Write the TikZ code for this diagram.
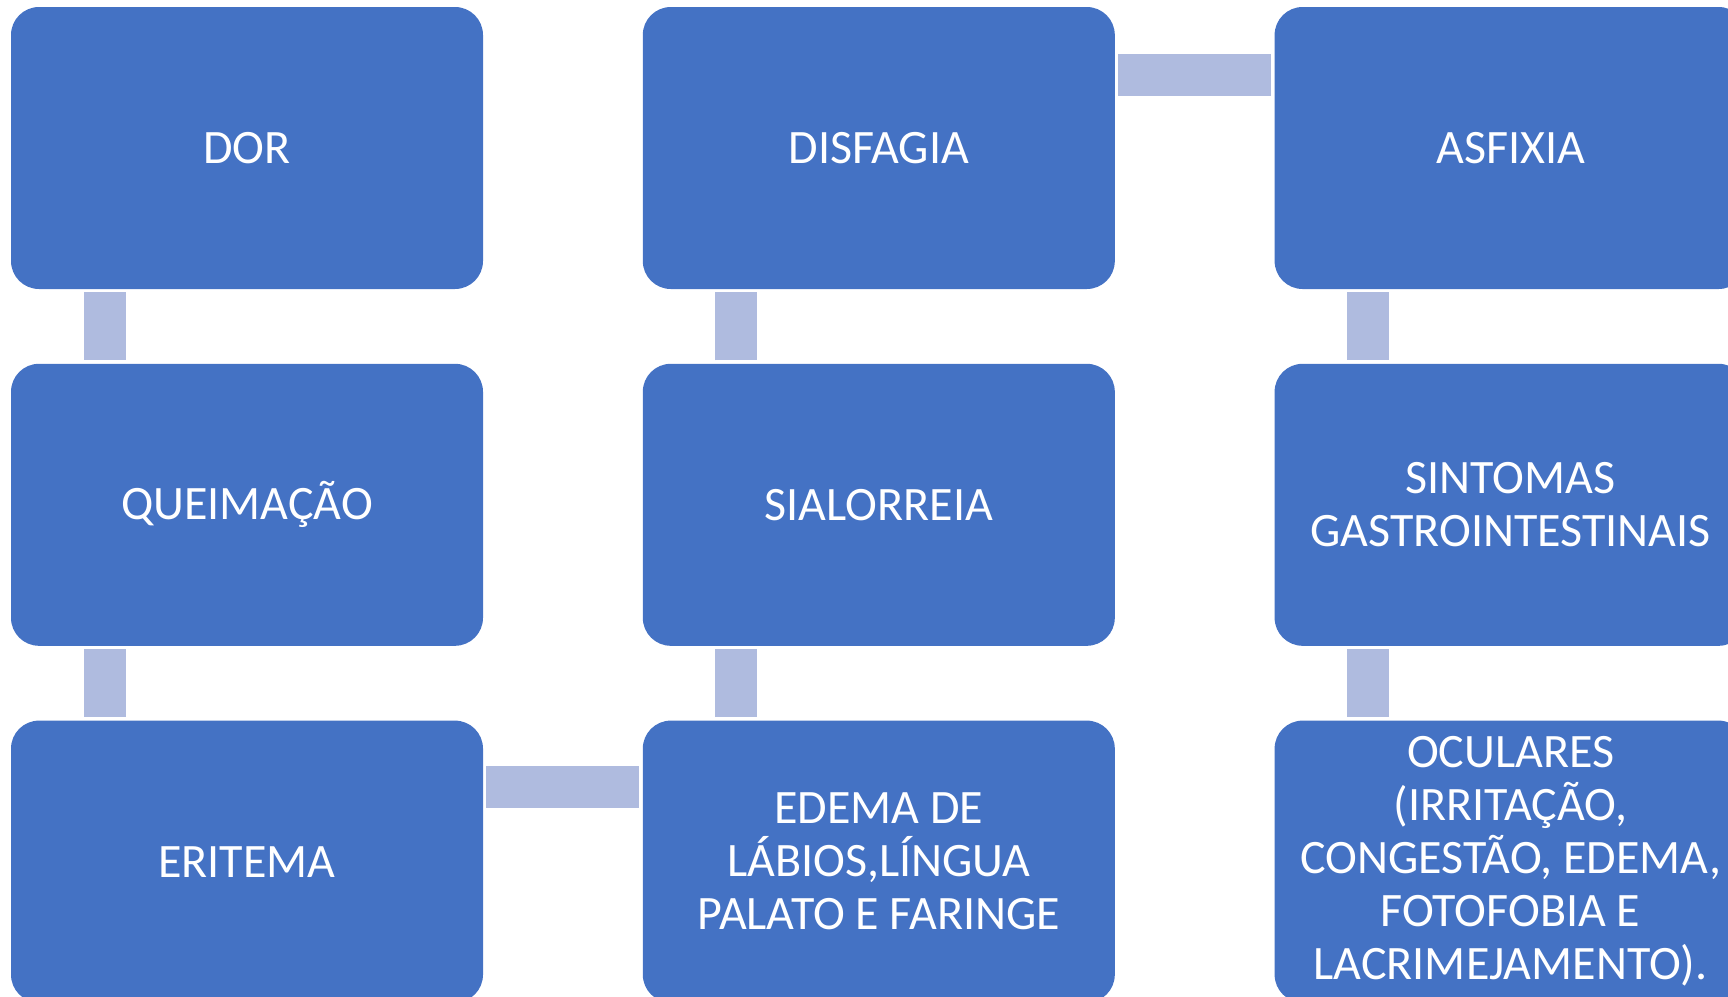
\documentclass[tikz,border=0pt]{standalone}
\usepackage{fontspec}
\setmainfont{Carlito}
\usepackage{xcolor}
\usetikzlibrary{positioning}
\definecolor{boxblue}{HTML}{4472C4}
\definecolor{linkblue}{HTML}{AFBBDF}
\tikzset{
box/.style={rectangle, rounded corners=14pt, fill=boxblue, text=white,
  minimum width=236pt, minimum height=141pt, inner sep=0pt, align=center,
  font=\fontsize{24pt}{26.5pt}\selectfont}, % the blue symptom boxes
link/.style={draw=linkblue, line width=21pt, shorten <=1.5pt, shorten >=1.5pt}, % the pale bars
node distance=37pt and 79.5pt, % gaps between the boxes
}
\begin{document}
\begin{tikzpicture}[x=0.5pt,y=-0.5pt]
    \useasboundingbox (0,0) rectangle (1728,996);
        \node[box] (dor) at (247,148) {DOR};
        \node[box, below=of dor] (queim) {QUEIMAÇÃO};
        \node[box, below=of queim] (erit) {ERITEMA};
        \node[box, right=of erit] (edema) {EDEMA DE\\LÁBIOS,LÍNGUA\\PALATO E FARINGE};
        \node[box, above=of edema] (sial) {SIALORREIA};
        \node[box, above=of sial] (disf) {DISFAGIA};
        \node[box, right=of disf] (asfix) {ASFIXIA};
        \node[box, below=of asfix] (sint) {SINTOMAS\\GASTROINTESTINAIS};
        \node[box, below=of sint] (ocul) {OCULARES\\(IRRITAÇÃO,\\CONGESTÃO, EDEMA,\\FOTOFOBIA E\\LACRIMEJAMENTO).};

        \draw[link] ([xshift=47pt]dor.south west) -- ([xshift=47pt]queim.north west);
        \draw[link] ([xshift=47pt]queim.south west) -- ([xshift=47pt]erit.north west);
        \draw[link] ([yshift=-33.5pt]erit.north east) -- ([yshift=-33.5pt]edema.north west);
        \draw[link] ([xshift=47pt]edema.north west) -- ([xshift=47pt]sial.south west);
        \draw[link] ([xshift=47pt]sial.north west) -- ([xshift=47pt]disf.south west);
        \draw[link] ([yshift=-34pt]disf.north east) -- ([yshift=-34pt]asfix.north west);
        \draw[link] ([xshift=47pt]asfix.south west) -- ([xshift=47pt]sint.north west);
        \draw[link] ([xshift=47pt]sint.south west) -- ([xshift=47pt]ocul.north west);
\end{tikzpicture}
\end{document}
